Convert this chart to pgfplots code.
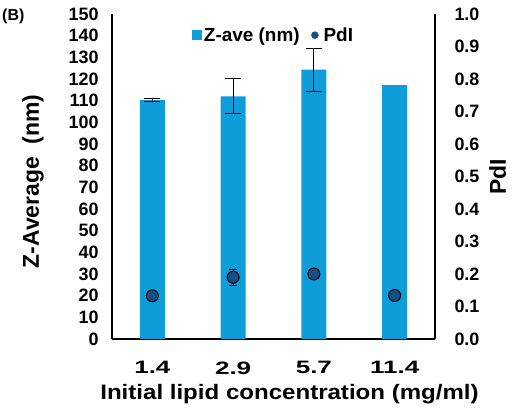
\documentclass[border=0pt]{standalone}
\usepackage{pgfplots}
\pgfplotsset{compat=1.18}
\usepackage{fontspec}
\setmainfont{Liberation Sans}
\newfontfamily\widetick[FakeStretch=1.45]{Liberation Sans}
\newfontfamily\widelabel[FakeStretch=1.15]{Liberation Sans}
\definecolor{barblue}{RGB}{14,157,217}
\definecolor{dotblue}{RGB}{22,79,134}
\begin{document}
\begin{tikzpicture}[x=1bp,y=1bp]
\pgfplotsset{
  every axis/.append style={
    scale only axis,
    width=323bp, height=325bp,
    xmin=-0.5, xmax=3.5,
    major tick length=0pt,
    axis line style={line width=1.1pt},
    /pgf/number format/assume math mode=true,
    tick label style={font=\fontsize{18}{18}\selectfont\bfseries},
    label style={font=\fontsize{23}{23}\selectfont\bfseries},
  }
}
\begin{axis}[
    at={(112bp,71bp)}, anchor=south west,
    axis x line*=bottom, axis y line*=left,
    ymin=0, ymax=150, ytick={0,10,...,150},
    xtick={0,1,2,3}, xticklabels={1.4,2.9,5.7,11.4},
    xticklabel style={yshift=-19bp, font=\fontsize{18}{18}\widetick\bfseries},
    yticklabel style={xshift=-10bp},
    xlabel={Initial lipid concentration (mg/ml)},
    xlabel style={yshift=-3bp, xshift=16bp, font=\fontsize{21}{21}\widelabel\bfseries},
    ylabel={Z-Average\ \ (nm)},
    ylabel style={yshift=18bp, xshift=-5bp},
    /pgf/number format/fixed,
    ybar, bar width=25bp, bar shift=0pt,
    legend style={draw=none, at={(0.50,0.965)}, anchor=north,
      legend columns=2, font=\fontsize{19}{19}\selectfont\bfseries,
      /tikz/every even column/.append style={column sep=5bp},
      inner sep=0pt},
    legend image code/.code={\fill[barblue] (-1bp,-5bp) rectangle (9bp,5bp);},
]
\addplot[fill=barblue, draw=none]
  coordinates {(0,110.3) (1,112) (2,124.3) (3,117.2)};
\addlegendentry{Z-ave (nm)}
\addlegendimage{legend image code/.code={\path (0bp,0) (14.5bp,0); \fill[dotblue] (8bp,0) circle (3.5bp);}}
\addlegendentry{PdI}
\addplot[forget plot, fill=none, draw=none, mark=none,
  error bars/.cd, y dir=both, y explicit,
  error bar style={draw=black, line width=1pt},
  error mark options={rotate=90, mark size=8bp, draw=black, line width=1pt}]
  coordinates {(0,110.3) +- (0,0.6) (1,112) +- (0,8) (2,124.3) +- (0,10)};
\end{axis}
\begin{axis}[
    at={(112bp,71bp)}, anchor=south west,
    axis y line*=right, axis x line=none,
    ymin=0, ymax=1, ytick={0,0.1,...,1.0},
    yticklabel style={xshift=16bp, /pgf/number format/fixed, /pgf/number format/fixed zerofill, /pgf/number format/precision=1},
    ylabel={PdI},
    ylabel style={yshift=-3bp},
]
\addplot[only marks, mark=*, mark size=6bp,
  mark options={fill=dotblue, draw=black, line width=1pt},
  error bars/.cd, y dir=both, y explicit,
  error bar style={line width=1pt, black},
  error mark options={rotate=90, mark size=4bp, line width=1pt, black}]
  coordinates {(0,0.133) (1,0.19) +- (0,0.025) (2,0.2) (3,0.134)};
\end{axis}
\node[font=\fontsize{16}{16}\selectfont\bfseries, anchor=west, inner sep=0pt] at (2bp,393.5bp) {(B)};
\pgfresetboundingbox
\path[use as bounding box] (0,0) rectangle (512bp,410bp);
\end{tikzpicture}
\end{document}
